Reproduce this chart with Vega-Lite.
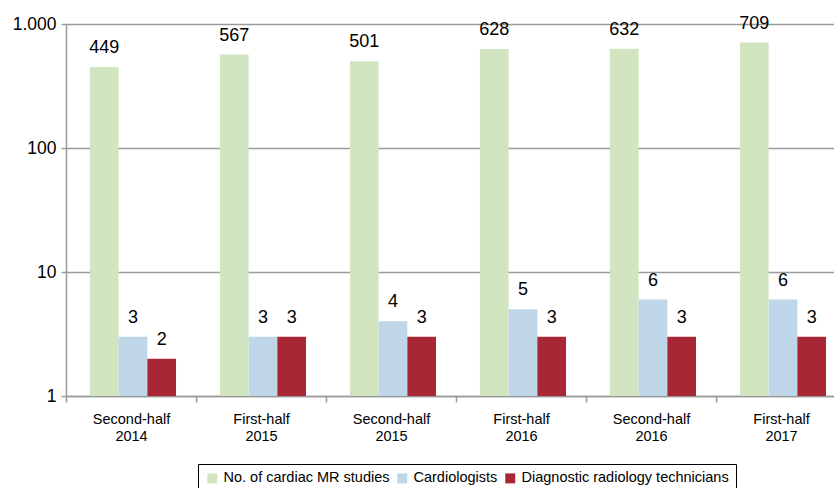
{
  "$schema": "https://vega.github.io/schema/vega-lite/v6.json",
  "autosize": "none",
  "padding": {"left": 66, "top": 24, "right": -12, "bottom": 92},
  "width": 780,
  "height": 372,
  "config": {
    "font": "Liberation Sans",
    "view": {"stroke": null},
    "axis": {"labelFont": "Liberation Sans", "labelColor": "#000000", "domainColor": "#9a9a9a", "tickColor": "#9a9a9a", "gridColor": "#9a9a9a", "gridOpacity": 1, "domainWidth": 1.5, "tickWidth": 1.5}
  },
  "data": {
    "values": [
      {"period": "Second-half 2014", "series": "No. of cardiac MR studies", "value": 449},
      {"period": "Second-half 2014", "series": "Cardiologists", "value": 3},
      {"period": "Second-half 2014", "series": "Diagnostic radiology technicians", "value": 2},
      {"period": "First-half 2015", "series": "No. of cardiac MR studies", "value": 567},
      {"period": "First-half 2015", "series": "Cardiologists", "value": 3},
      {"period": "First-half 2015", "series": "Diagnostic radiology technicians", "value": 3},
      {"period": "Second-half 2015", "series": "No. of cardiac MR studies", "value": 501},
      {"period": "Second-half 2015", "series": "Cardiologists", "value": 4},
      {"period": "Second-half 2015", "series": "Diagnostic radiology technicians", "value": 3},
      {"period": "First-half 2016", "series": "No. of cardiac MR studies", "value": 628},
      {"period": "First-half 2016", "series": "Cardiologists", "value": 5},
      {"period": "First-half 2016", "series": "Diagnostic radiology technicians", "value": 3},
      {"period": "Second-half 2016", "series": "No. of cardiac MR studies", "value": 632},
      {"period": "Second-half 2016", "series": "Cardiologists", "value": 6},
      {"period": "Second-half 2016", "series": "Diagnostic radiology technicians", "value": 3},
      {"period": "First-half 2017", "series": "No. of cardiac MR studies", "value": 709},
      {"period": "First-half 2017", "series": "Cardiologists", "value": 6},
      {"period": "First-half 2017", "series": "Diagnostic radiology technicians", "value": 3}
    ]
  },
  "encoding": {
    "x": {
      "field": "period",
      "type": "nominal",
      "sort": ["Second-half 2014", "First-half 2015", "Second-half 2015", "First-half 2016", "Second-half 2016", "First-half 2017"],
      "scale": {"paddingInner": 0, "paddingOuter": 0},
      "axis": {
        "title": null,
        "labelAngle": 0,
        "labelFontSize": 14.5,
        "labelExpr": "split(datum.label, ' ')",
        "labelLineHeight": 17,
        "labelPadding": 10,
        "tickBand": "extent",
        "tickSize": 6,
        "grid": false
      }
    },
    "xOffset": {
      "field": "series",
      "type": "nominal",
      "sort": ["No. of cardiac MR studies", "Cardiologists", "Diagnostic radiology technicians"],
      "scale": {"paddingInner": 0, "paddingOuter": 0.765, "align": 0.545}
    },
    "y": {
      "field": "value",
      "type": "quantitative",
      "stack": null,
      "scale": {"type": "log", "domain": [1, 1000], "nice": false},
      "axis": {
        "title": null,
        "values": [1, 10, 100, 1000],
        "labelExpr": "datum.value == 1000 ? '1.000' : datum.label",
        "labelFontSize": 17.5,
        "labelPadding": 5,
        "tickSize": 5,
        "grid": true,
        "gridWidth": 1.5
      }
    }
  },
  "layer": [
    {
      "mark": {"type": "bar", "opacity": 1},
      "encoding": {
        "color": {
          "field": "series",
          "type": "nominal",
          "sort": ["No. of cardiac MR studies", "Cardiologists", "Diagnostic radiology technicians"],
          "scale": {"range": ["#d1e6c0", "#bed6e8", "#a72834"]},
          "legend": {
            "title": null,
            "orient": "none",
            "direction": "horizontal",
            "legendX": 132,
            "legendY": 440,
            "strokeColor": "#000000",
            "padding": 7,
            "symbolType": "square",
            "symbolSize": 100,
            "symbolStrokeWidth": 0,
            "symbolOpacity": 1,
            "labelFontSize": 14.5,
            "labelLimit": 400,
            "labelColor": "#000000",
            "labelOffset": 4,
            "columnPadding": 5
          }
        }
      }
    },
    {
      "mark": {"type": "text", "baseline": "alphabetic", "dy": -14, "fontSize": 18, "color": "#000000"},
      "encoding": {"text": {"field": "value", "type": "quantitative"}}
    }
  ]
}
